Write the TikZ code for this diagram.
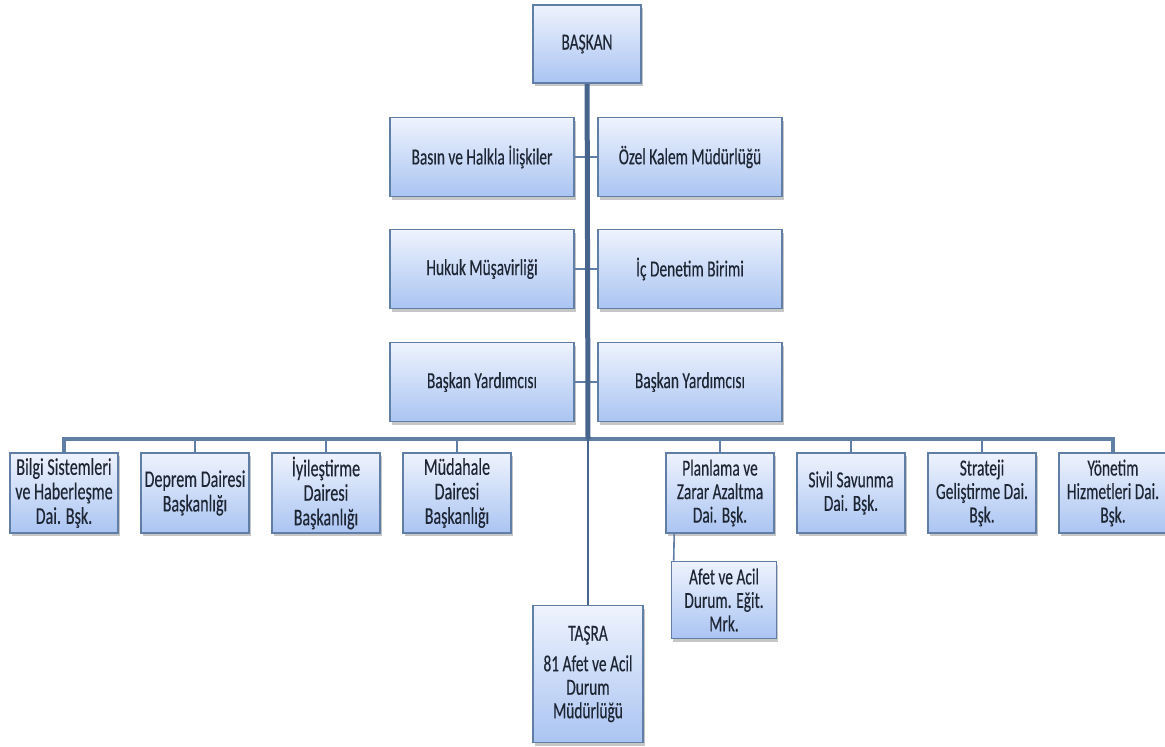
\documentclass[tikz,border=0pt]{standalone}
\usepackage{fontspec}
\setmainfont{Carlito}[FakeStretch=0.67,FakeBold=0.3]
\usepackage{xcolor}
\usetikzlibrary{shadows}
\definecolor{boxtop}{RGB}{238,243,253}
\definecolor{boxbottom}{RGB}{170,196,242}
\definecolor{boxline}{RGB}{96,126,166}
\definecolor{trunkblue}{RGB}{70,100,140}
\definecolor{ink}{RGB}{30,38,52}

\begin{document}
\begin{tikzpicture}[x=1pt,y=-1pt,node distance=131pt,
    unit node/.style={draw=boxline,line width=1.6pt,top color=boxtop,bottom color=boxbottom,
        drop shadow={shadow xshift=1.5pt,shadow yshift=-3pt,opacity=0.45},
        text=ink,align=center,inner sep=1pt,font=\fontsize{23}{23.5}\selectfont},
    staff node/.style={unit node,minimum width=184pt,minimum height=79pt},
    dept node/.style={unit node,minimum width=108pt,minimum height=80pt},
    wide dept/.style={dept node,font=\fontsize{24}{24.5}\selectfont},
    link/.style={draw=boxline,line width=1.6pt},
    bus line/.style={draw=boxline,line width=3.2pt},
    trunk line/.style={draw=trunkblue,line width=5pt}]
    \useasboundingbox (0,0) rectangle (1165,747);

    \node[unit node,minimum width=108pt,minimum height=78pt] (baskan) at (587,44) {BAŞKAN};
    \node[staff node] (basin) at (482,157) {Basın ve Halkla İlişkiler};
    \node[staff node] (ozel) at (690,157) {Özel Kalem Müdürlüğü};
    \node[staff node] (hukuk) at (482,269) {Hukuk Müşavirliği};
    \node[staff node] (icdenetim) at (690,269) {İç Denetim Birimi};
    \node[staff node] (yrd1) at (482,382) {Başkan Yardımcısı};
    \node[staff node] (yrd2) at (690,382) {Başkan Yardımcısı};

    \node[wide dept] (bilgi) at (64,493) {Bilgi Sistemleri\\ve Haberleşme\\Dai. Bşk.};
    \node[wide dept] (deprem) [right of=bilgi] {Deprem Dairesi\\Başkanlığı};
    \node[wide dept] (iyilestirme) [right of=deprem] {İyileştirme\\Dairesi\\Başkanlığı};
    \node[wide dept] (mudahale) [right of=iyilestirme] {Müdahale\\Dairesi\\Başkanlığı};
    \node[dept node] (planlama) at (720,493) {Planlama ve\\Zarar Azaltma\\Dai. Bşk.};
    \node[dept node] (sivil) [right of=planlama] {Sivil Savunma\\Dai. Bşk.};
    \node[dept node] (strateji) [right of=sivil] {Strateji\\Geliştirme Dai.\\Bşk.};
    \node[dept node] (yonetim) [right of=strateji] {Yönetim\\Hizmetleri Dai.\\Bşk.};

    \node[unit node,minimum width=105pt,minimum height=77pt] (egitim) at (724,600) {Afet ve Acil\\Durum. Eğit.\\Mrk.};
    \node[unit node,minimum width=110pt,minimum height=137pt] (tasra) at (588,674) {TAŞRA\\[7pt]81 Afet ve Acil\\Durum\\Müdürlüğü};

    \coordinate (hub) at (588,439);

    \draw[link] (basin) -- (ozel);
    \draw[link] (hukuk) -- (icdenetim);
    \draw[link] (yrd1) -- (yrd2);

    \draw[bus line] (bilgi.north) |- (hub) -| (yonetim.north);
    \foreach \d in {deprem,iyilestirme,mudahale,planlama,sivil,strateji}
        \draw[link] (\d.north) -- (\d.north |- hub);
    \draw[link] ([xshift=9pt]planlama.south west) -- ([xshift=3pt]egitim.north west);

    \draw[trunk line] (baskan) -- (hub);
    \draw[link,draw=trunkblue,line width=1.8pt] (hub) -- (tasra);
\end{tikzpicture}
\end{document}
